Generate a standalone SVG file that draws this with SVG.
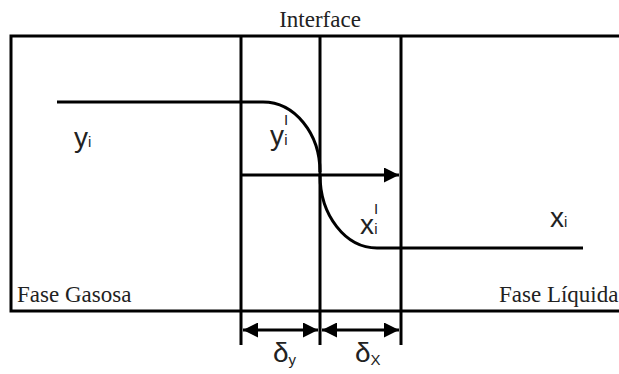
<svg xmlns="http://www.w3.org/2000/svg" width="619" height="374" viewBox="0 0 619 374">
<defs>
<style>
.ln{stroke:#000;stroke-width:3;fill:none}
.serif{font-family:"Liberation Serif","Times New Roman",serif;font-size:23px;fill:#222}
.sans{font-family:"Liberation Sans",Arial,sans-serif;fill:#222}
</style>
<marker id="ah" viewBox="0 0 10 10" refX="10" refY="5" markerWidth="6" markerHeight="5" markerUnits="strokeWidth" orient="auto-start-reverse">
<path d="M0,0 L10,5 L0,10 z" fill="#000"/>
</marker>
</defs>
<rect width="619" height="374" fill="#fff"/>
<g id="phases">
<rect x="11" y="36" width="620" height="275" class="ln" fill="#fbfcfe"/>
<text class="serif" x="320" y="27" text-anchor="middle">Interface</text>
<text class="serif" x="17" y="302">Fase Gasosa</text>
<text class="serif" x="499" y="302">Fase Líquida</text>
</g>
<g id="films">
<line class="ln" x1="241" y1="36" x2="241" y2="345"/>
<line class="ln" x1="320" y1="36" x2="320" y2="345"/>
<line class="ln" x1="401" y1="36" x2="401" y2="345"/>
</g>
<g id="profile">
<path class="ln" d="M57,102 H263 A57,70 0 0 1 320,172"/>
<path class="ln" d="M320,175 A57,73 0 0 0 377,248 H583"/>
</g>
<g id="labels">
<text class="sans" x="74" y="147" font-size="28">y<tspan font-size="15">i</tspan></text>
<text class="sans" x="270" y="145" font-size="28">y<tspan font-size="15" dy="-20">I</tspan><tspan font-size="15" dx="-4" dy="20">i</tspan></text>
<text class="sans" x="360" y="234" font-size="28">x<tspan font-size="15" dy="-20">I</tspan><tspan font-size="15" dx="-4" dy="20">i</tspan></text>
<text class="sans" x="550" y="227" font-size="28">x<tspan font-size="15">i</tspan></text>
</g>
<g id="connectors">
<line class="ln" x1="241" y1="175" x2="399" y2="175" marker-end="url(#ah)"/>
<line class="ln" x1="243" y1="330" x2="318" y2="330" marker-start="url(#ah)" marker-end="url(#ah)"/>
<line class="ln" x1="322" y1="330" x2="399" y2="330" marker-start="url(#ah)" marker-end="url(#ah)"/>
</g>
<g id="widths">
<text class="sans" x="273" y="362" font-size="28">δ<tspan font-size="15" dy="3">y</tspan></text>
<text class="sans" x="355" y="362" font-size="28">δ<tspan font-size="15" dy="3">X</tspan></text>
</g>
</svg>
